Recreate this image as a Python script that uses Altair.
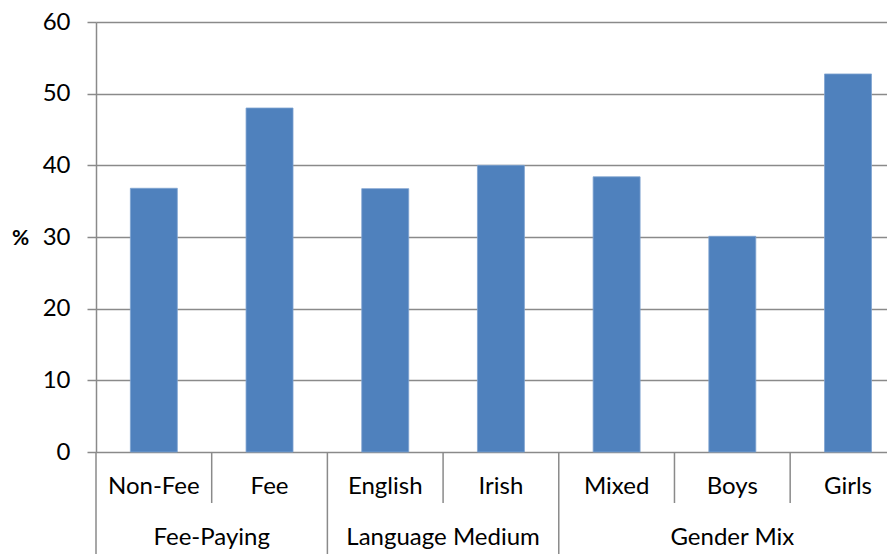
import altair as alt
import pandas as pd

categories = ["Non-Fee", "Fee", "English", "Irish", "Mixed", "Boys", "Girls"]
values = [36.8, 48.0, 36.75, 40.0, 38.4, 30.1, 52.75]
groups = ["Fee-Paying", "Language Medium", "Gender Mix"]
group_sizes = [2, 2, 3]

# Build tables
cat_group = []
for g, n in zip(groups, group_sizes):
    cat_group += [g] * n
df = pd.DataFrame({"cat": categories, "value": values, "group": cat_group,
                   "idx": list(range(len(categories)))})

starts = []
s = 0
for n in group_sizes:
    starts.append(s)
    s += n
gdf = pd.DataFrame({"group": groups, "start": starts,
                    "end": [a + b for a, b in zip(starts, group_sizes)]})

sep = pd.DataFrame({"pos": list(range(len(categories))),
                    "long": [i in starts for i in range(len(categories))]})

W, H = 791, 430
GRAY = "#8a8a8a"
BLUE = "#4F81BD"
FONT = "Lato"
FS = 24

xscale = alt.Scale(domain=[0, 6.837], nice=False, zero=False)
yscale = alt.Scale(domain=[0, 60], nice=False)

base = alt.Chart(df)

bars = base.transform_calculate(
    x0="datum.idx + 0.297", x1="datum.idx + 0.703"
).mark_bar(color=BLUE, stroke="#7fa3d0", strokeWidth=0.8).encode(
    x=alt.X("x0:Q", scale=xscale, axis=None),
    x2="x1:Q",
    y=alt.Y("value:Q", scale=yscale,
            axis=alt.Axis(values=[0, 10, 20, 30, 40, 50, 60], grid=True,
                          gridColor=GRAY, gridWidth=1.5, domainColor=GRAY,
                          domainWidth=1.5, tickColor=GRAY, tickWidth=1.5,
                          tickSize=9, labelFont=FONT, labelFontSize=FS,
                          labelColor="black", labelPadding=17,
                          title="%", titleAngle=0, titleFont=FONT,
                          titleFontSize=21, titleFontWeight="bold",
                          titleColor="black", titleX=-76, titleY=216,
                          titleAlign="center", titleBaseline="middle")),
    y2=alt.datum(0),
)

cat_labels = base.transform_calculate(xc="datum.idx + 0.5").mark_text(
    font=FONT, fontSize=FS, color="black", baseline="middle", clip=False
).encode(
    x=alt.X("xc:Q", scale=xscale),
    y=alt.value(H + 35),
    text="cat:N",
)

group_labels = alt.Chart(gdf).transform_calculate(
    xc="(datum.start + datum.end) / 2"
).mark_text(font=FONT, fontSize=FS, color="black", baseline="middle").encode(
    x=alt.X("xc:Q", scale=xscale),
    y=alt.value(H + 86),
    text="group:N",
)

short_sep = alt.Chart(sep).transform_filter("!datum.long").mark_rule(
    color=GRAY, strokeWidth=1.5
).encode(x=alt.X("pos:Q", scale=xscale), y=alt.value(H), y2=alt.value(H + 51))

long_sep = alt.Chart(sep).transform_filter("datum.long").mark_rule(
    color=GRAY, strokeWidth=1.5
).encode(x=alt.X("pos:Q", scale=xscale), y=alt.value(H), y2=alt.value(H + 104))

chart = alt.layer(bars, short_sep, long_sep, cat_labels, group_labels).properties(
    width=W, height=H,
    padding={"left": 88, "top": 14, "right": 0, "bottom": 102},
    autosize=alt.AutoSizeParams(type="none"),
).configure_view(stroke=None)

chart.save("out.html", embed_options={"renderer": "svg", "actions": False})
